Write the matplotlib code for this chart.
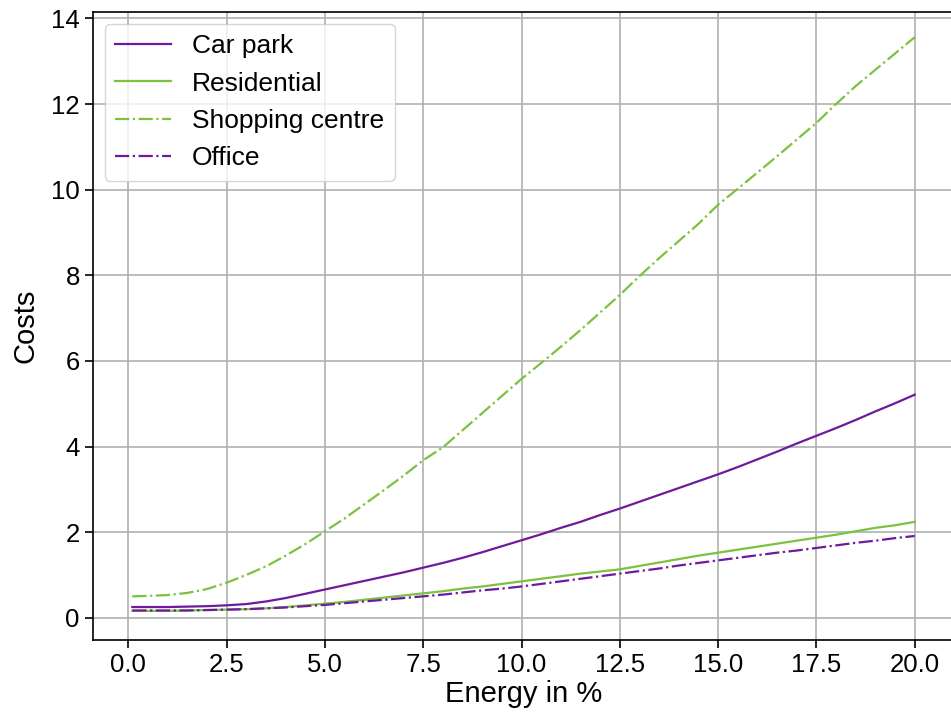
import matplotlib
matplotlib.use("Agg")
import matplotlib.pyplot as plt

plt.rcParams['font.family'] = ['Liberation Sans', 'DejaVu Sans']

# energy share in %
energy = [0.1, 0.5, 1.0, 1.5, 2.0, 2.5, 3.0, 3.5, 4.0, 4.5, 5.0,
          5.5, 6.0, 6.5, 7.0, 7.5, 8.0, 8.5, 9.0, 9.5, 10.0,
          10.5, 11.0, 11.5, 12.0, 12.5, 13.0, 13.5, 14.0, 14.5, 15.0,
          15.5, 16.0, 16.5, 17.0, 17.5, 18.0, 18.5, 19.0, 19.5, 20.0]

car_park = [0.25, 0.25, 0.25, 0.26, 0.27, 0.29, 0.32, 0.38, 0.46, 0.56, 0.66,
            0.76, 0.86, 0.96, 1.06, 1.17, 1.28, 1.40, 1.53, 1.67, 1.81,
            1.95, 2.10, 2.24, 2.40, 2.55, 2.71, 2.87, 3.03, 3.19, 3.35,
            3.52, 3.70, 3.88, 4.07, 4.25, 4.43, 4.62, 4.82, 5.01, 5.21]

residential = [0.16, 0.16, 0.16, 0.17, 0.18, 0.19, 0.20, 0.22, 0.25, 0.29, 0.33,
               0.37, 0.42, 0.47, 0.52, 0.57, 0.62, 0.68, 0.73, 0.79, 0.85,
               0.91, 0.97, 1.03, 1.08, 1.13, 1.21, 1.29, 1.37, 1.45, 1.52,
               1.59, 1.66, 1.73, 1.80, 1.87, 1.94, 2.02, 2.10, 2.16, 2.24]

shopping = [0.50, 0.51, 0.53, 0.58, 0.67, 0.82, 1.00, 1.20, 1.45, 1.72, 2.02,
            2.32, 2.65, 2.98, 3.32, 3.68, 3.98, 4.38, 4.78, 5.18, 5.58,
            5.95, 6.33, 6.72, 7.13, 7.54, 7.98, 8.40, 8.80, 9.20, 9.65,
            10.02, 10.40, 10.78, 11.17, 11.56, 12.00, 12.42, 12.80, 13.18, 13.56]

office = [0.17, 0.17, 0.17, 0.17, 0.18, 0.19, 0.20, 0.22, 0.24, 0.27, 0.30,
          0.34, 0.38, 0.42, 0.46, 0.50, 0.54, 0.59, 0.64, 0.68, 0.73,
          0.79, 0.85, 0.91, 0.97, 1.03, 1.09, 1.15, 1.22, 1.28, 1.34,
          1.40, 1.46, 1.52, 1.57, 1.63, 1.69, 1.75, 1.80, 1.86, 1.91]

purple = '#6e1a9e'
green = '#7cc13f'

fig = plt.figure(figsize=(9.51, 7.13), dpi=100)
ax = fig.add_axes([93 / 951, 73 / 713, 861 / 951, 628 / 713])

ax.plot(energy, car_park, color=purple, linestyle='-', linewidth=1.6, label='Car park')
ax.plot(energy, residential, color=green, linestyle='-', linewidth=1.6, label='Residential')
ax.plot(energy, shopping, color=green, linestyle='-.', linewidth=1.6, label='Shopping centre')
ax.plot(energy, office, color=purple, linestyle='-.', linewidth=1.6, label='Office')

ax.set_xlim(-0.9, 21.0)
ax.set_ylim(-0.52, 14.15)
ax.set_xticks([0, 2.5, 5, 7.5, 10, 12.5, 15, 17.5, 20])
ax.set_yticks([0, 2, 4, 6, 8, 10, 12, 14])
ax.grid(True, color='#b0b0b0', linewidth=1.2)
ax.tick_params(labelsize=18.5, length=6, width=1.2)
for s in ax.spines.values():
    s.set_linewidth(1.2)

ax.set_xlabel('Energy in %', fontsize=21, labelpad=2)
ax.set_ylabel('Costs', fontsize=21, labelpad=8)
ax.legend(loc='upper left', fontsize=19, handlelength=2.1, borderaxespad=0.45)

fig.savefig('out.png', dpi=100)
